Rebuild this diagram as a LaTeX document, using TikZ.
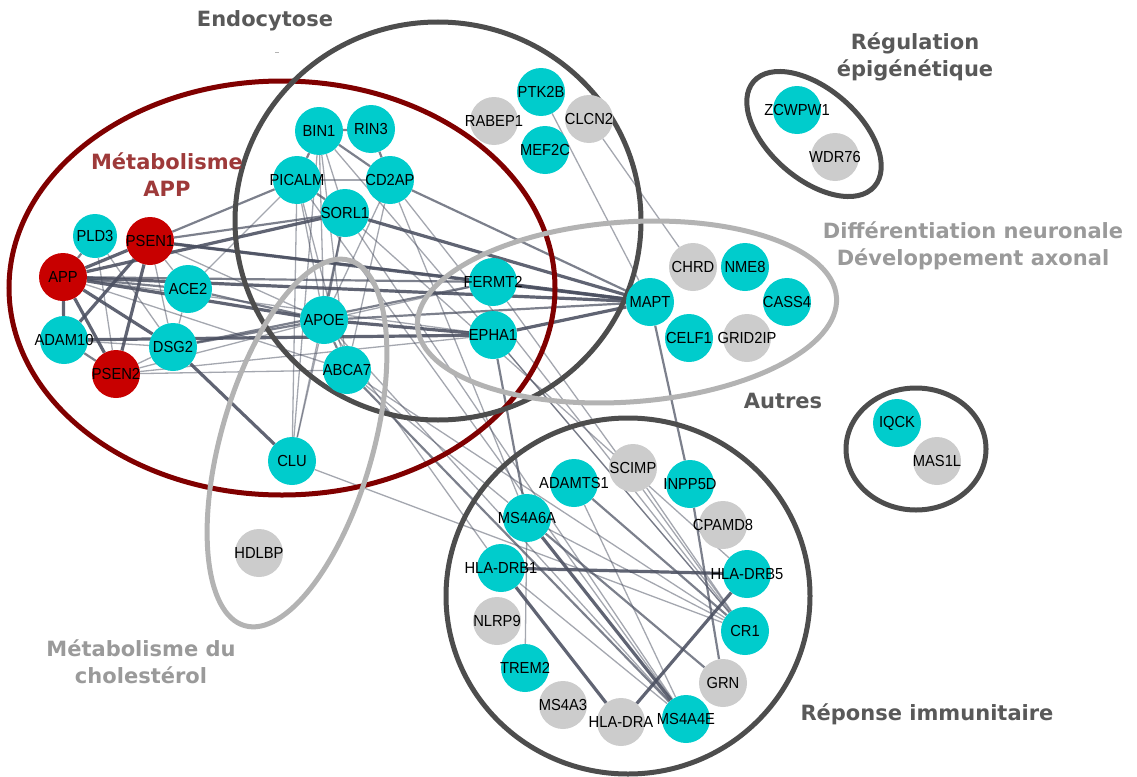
\documentclass[tikz,border=0pt]{standalone}
\usepackage{fontspec}
\setmainfont{Liberation Sans}
\newfontfamily\genefont{Liberation Sans}[FakeStretch=0.92]
\newfontfamily\grpfont{DejaVu Sans}
\newcommand{\genetxt}[1]{\makebox[0pt][c]{#1}}
\definecolor{cyanc}{HTML}{00CCCC}
\definecolor{redc}{HTML}{C80000}
\definecolor{grayc}{HTML}{CCCCCC}
\definecolor{edgec}{HTML}{4A4F60}
\definecolor{darkring}{HTML}{4D4D4D}
\definecolor{redring}{HTML}{800000}
\definecolor{lightring}{HTML}{B3B3B3}
\definecolor{darklab}{HTML}{595959}
\definecolor{lightlab}{HTML}{9A9A9A}
\definecolor{redlab}{HTML}{9E3A3A}
\pgfdeclarelayer{edges}
\pgfdeclarelayer{groups}
\pgfsetlayers{edges,groups,main}
\tikzset{
  gene/.style={circle, minimum size=48pt, inner sep=0pt, text=black,
    font=\genefont\fontsize{16}{18}\selectfont},
  cy/.style={gene, fill=cyanc},
  rd/.style={gene, fill=redc},
  gy/.style={gene, fill=grayc},
  thk/.style={draw=edgec, line width=3.2pt, opacity=.88},
  med/.style={draw=edgec, line width=2.2pt, opacity=.72},
  thn/.style={draw=edgec, line width=1.3pt, opacity=.5},
  ring/.style={line width=5pt},
  glab/.style={font=\grpfont\bfseries\fontsize{21}{27}\selectfont, align=center}
}
\begin{document}
\begin{tikzpicture}[x=1pt,y=-1pt]
\useasboundingbox (0,0) rectangle (1137,776);
% ---------- nodes ----------
\node[cy] (BIN1) at (319,131) {\genetxt{BIN1}};
\node[cy] (RIN3) at (371,129) {\genetxt{RIN3}};
\node[cy] (PICALM) at (297,180) {\genetxt{PICALM}};
\node[cy] (CD2AP) at (390,180) {\genetxt{CD2AP}};
\node[cy] (SORL1) at (345,213) {\genetxt{SORL1}};
\node[cy, minimum size=44pt] (PLD3) at (95,236) {\genetxt{PLD3}};
\node[rd] (PSEN1) at (150,241) {\genetxt{PSEN1}};
\node[rd] (APP) at (63,277) {\genetxt{APP}};
\node[cy] (ACE2) at (188,289) {\genetxt{ACE2}};
\node[cy] (ADAM10) at (64,340) {\genetxt{ADAM10}};
\node[cy] (DSG2) at (173,347) {\genetxt{DSG2}};
\node[rd] (PSEN2) at (116,374) {\genetxt{PSEN2}};
\node[cy] (APOE) at (324,320) {\genetxt{APOE}};
\node[cy] (ABCA7) at (347,370) {\genetxt{ABCA7}};
\node[cy] (CLU) at (292,461) {\genetxt{CLU}};
\node[cy] (FERMT2) at (493,282) {\genetxt{FERMT2}};
\node[cy] (EPHA1) at (493,335) {\genetxt{EPHA1}};
\node[cy] (MAPT) at (650,302) {\genetxt{MAPT}};
\node[gy] (CHRD) at (693,267) {\genetxt{CHRD}};
\node[cy] (NME8) at (745,267) {\genetxt{NME8}};
\node[cy] (CASS4) at (787,302) {\genetxt{CASS4}};
\node[cy] (CELF1) at (689,338) {\genetxt{CELF1}};
\node[gy] (GRID2IP) at (747,338) {\genetxt{GRID2IP}};
\node[cy] (PTK2B) at (541,92) {\genetxt{PTK2B}};
\node[gy] (RABEP1) at (494,121) {\genetxt{RABEP1}};
\node[gy] (CLCN2) at (589,119) {\genetxt{CLCN2}};
\node[cy] (MEF2C) at (545,150) {\genetxt{MEF2C}};
\node[cy] (ZCWPW1) at (797,110) {\genetxt{ZCWPW1}};
\node[gy] (WDR76) at (835,157) {\genetxt{WDR76}};
\node[cy] (IQCK) at (897,423) {\genetxt{IQCK}};
\node[gy] (MAS1L) at (937,461) {\genetxt{MAS1L}};
\node[gy] (HDLBP) at (259,553) {\genetxt{HDLBP}};
\node[cy] (ADAMTS1) at (574,483) {\genetxt{ADAMTS1}};
\node[gy] (SCIMP) at (633,468) {\genetxt{SCIMP}};
\node[cy] (INPP5D) at (690,484) {\genetxt{INPP5D}};
\node[gy] (CPAMD8) at (723,525) {\genetxt{CPAMD8}};
\node[cy] (MS4A6A) at (527,518) {\genetxt{MS4A6A}};
\node[cy] (DRB1) at (501,568) {\genetxt{HLA-DRB1}};
\node[cy] (DRB5) at (747,574) {\genetxt{HLA-DRB5}};
\node[gy] (NLRP9) at (497,621) {\genetxt{NLRP9}};
\node[cy] (CR1) at (745,631) {\genetxt{CR1}};
\node[cy] (TREM2) at (525,668) {\genetxt{TREM2}};
\node[gy] (GRN) at (723,683) {\genetxt{GRN}};
\node[gy] (MS4A3) at (563,705) {\genetxt{MS4A3}};
\node[gy] (DRA) at (621,722) {\genetxt{HLA-DRA}};
\node[cy] (MS4A4E) at (686,719) {\genetxt{MS4A4E}};
% ---------- group rings ----------
\begin{pgfonlayer}{groups}
\draw[ring, redring] (282,288) ellipse [x radius=273, y radius=207];
\draw[ring, darkring] (438,221) ellipse [x radius=203, y radius=199];
\draw[ring, lightring, rotate around={4:(627,312)}] (627,312) ellipse [x radius=210, y radius=90];
\draw[ring, lightring, rotate around={74:(297,443)}] (297,443) ellipse [x radius=190, y radius=76];
\draw[ring, darkring] (628,596) ellipse [x radius=182, y radius=178];
\draw[ring, darkring, rotate around={-41:(814,134)}] (814,134) ellipse [x radius=80, y radius=45];
\draw[ring, darkring] (916,449) ellipse [x radius=70, y radius=61];
\end{pgfonlayer}
% ---------- edges ----------
\begin{pgfonlayer}{edges}
% endocytosis cluster
\draw[med] (BIN1) -- (RIN3);
\draw[med] (BIN1) -- (PICALM);
\draw[med] (RIN3) -- (CD2AP);
\draw[med] (BIN1) -- (CD2AP);
\draw[thn] (PICALM) -- (CD2AP);
\draw[med] (PICALM) -- (SORL1);
\draw[thn] (BIN1) -- (SORL1);
\draw[thn] (BIN1) -- (APOE);
\draw[thn] (BIN1) -- (ABCA7);
\draw[thn] (PICALM) -- (APOE);
\draw[thn] (PICALM) -- (ABCA7);
\draw[thn] (PICALM) -- (CLU);
\draw[thn] (BIN1) -- (CLU);
\draw[thn] (SORL1) -- (CLU);
\draw[med] (SORL1) -- (APOE);
\draw[thn] (CD2AP) -- (APOE);
\draw[thn] (CD2AP) -- (ABCA7);
\draw[med] (CD2AP) -- (MAPT);
\draw[thk] (SORL1) -- (MAPT);
% APP cluster
\draw[thk] (APP) -- (PSEN1);
\draw[med] (APP) -- (PLD3);
\draw[thk] (APP) -- (ADAM10);
\draw[thk] (APP) -- (PSEN2);
\draw[thk] (APP) -- (DSG2);
\draw[med] (APP) -- (ACE2);
\draw[thk] (APP) -- (APOE);
\draw[thk] (APP) -- (SORL1);
\draw[med] (APP) -- (FERMT2);
\draw[thk] (APP) -- (MAPT);
\draw[thn] (APP) -- (ABCA7);
\draw[thn] (APP) -- (EPHA1);
\draw[thk] (PSEN1) -- (PSEN2);
\draw[thk] (PSEN1) -- (ADAM10);
\draw[thn] (PSEN1) -- (DSG2);
\draw[thn] (PSEN1) -- (ACE2);
\draw[med] (PSEN1) -- (PICALM);
\draw[med] (PSEN1) -- (SORL1);
\draw[thk] (PSEN1) -- (MAPT);
\draw[med] (PSEN1) -- (FERMT2);
\draw[thn] (PSEN1) -- (APOE);
\draw[thn] (PLD3) -- (PSEN2);
\draw[thn] (PLD3) -- (DSG2);
\draw[med] (ADAM10) -- (PSEN2);
\draw[thk] (ADAM10) -- (EPHA1);
\draw[thn] (ADAM10) -- (DSG2);
\draw[thn] (PSEN2) -- (DSG2);
\draw[thn] (PSEN2) -- (APOE);
\draw[thn] (PSEN2) -- (ABCA7);
\draw[thn] (PSEN2) -- (EPHA1);
\draw[thk] (DSG2) -- (CLU);
\draw[med] (DSG2) -- (APOE);
\draw[med] (DSG2) -- (FERMT2);
\draw[thn] (DSG2) -- (ACE2);
\draw[med] (ACE2) -- (APOE);
\draw[thn] (ACE2) -- (PICALM);
\draw[med] (APOE) -- (ABCA7);
\draw[thk] (APOE) -- (EPHA1);
\draw[thn] (APOE) -- (FERMT2);
\draw[med] (APOE) -- (MAPT);
\draw[thn] (APOE) -- (CLU);
\draw[thk] (FERMT2) -- (MAPT);
\draw[thk] (EPHA1) -- (MAPT);
% toward immune response
\draw[med] (ABCA7) -- (MS4A4E);
\draw[thn] (ABCA7) -- (CR1);
\draw[thn] (APOE) -- (MS4A4E);
\draw[thn] (SORL1) -- (MS4A4E);
\draw[thn] (PICALM) -- (MS4A4E);
\draw[thn] (BIN1) -- (CR1);
\draw[thn] (CD2AP) -- (CR1);
\draw[med] (EPHA1) -- (MS4A6A);
\draw[thn] (EPHA1) -- (CR1);
\draw[thn] (FERMT2) -- (CR1);
\draw[thn] (CD2AP) -- (MS4A6A);
\draw[thn] (SORL1) -- (DRB5);
\draw[thn] (CLU) -- (CR1);
\draw[thn] (ABCA7) -- (MS4A6A);
\draw[thn] (APOE) -- (DRB1);
% other clusters
\draw[thn] (PTK2B) -- (MAPT);
\draw[thn] (CLCN2) -- (CHRD);
\draw[med] (MAPT) -- (INPP5D);
% immune cluster
\draw[thk] (DRB1) -- (DRB5);
\draw[thk] (DRB1) -- (DRA);
\draw[thk] (DRB5) -- (DRA);
\draw[thn] (MS4A6A) -- (TREM2);
\draw[thk] (MS4A6A) -- (MS4A4E);
\draw[med] (ADAMTS1) -- (CR1);
\draw[thn] (MS4A6A) -- (CR1);
\draw[med] (MS4A6A) -- (GRN);
\draw[med] (INPP5D) -- (GRN);
\draw[thn] (SCIMP) -- (CR1);
\draw[thn] (DRB1) -- (MS4A4E);
\draw[thn] (ADAMTS1) -- (MS4A4E);
\end{pgfonlayer}
% ---------- group labels ----------
\node[glab, text=darklab] (lEndo) at (265,21) {Endocytose};
\draw[lightring, line width=0.8pt] (275,52) -- (279,52);
\node[glab, text=redlab] (lAPP) at (167,175) {Métabolisme\\APP};
\node[glab, text=darklab] (lEpi) at (915,57) {Régulation\\épigénétique};
\node[glab, text=lightlab] (lNeur) at (973,246) {Différentiation neuronale\\Développement axonal};
\node[glab, text=darklab] (lAut) at (783,401) {Autres};
\node[glab, text=lightlab] (lChol) at (141,662) {Métabolisme du\\cholestérol};
\node[glab, text=darklab] (lImm) at (927,714) {Réponse immunitaire};
\end{tikzpicture}
\end{document}
